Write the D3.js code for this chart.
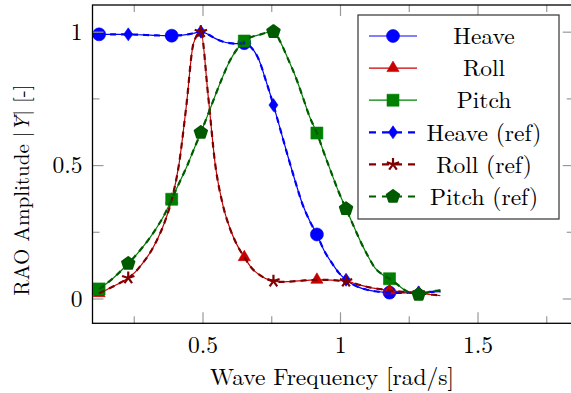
<!DOCTYPE html>
<html>
<head>
<meta charset="utf-8">
<title>RAO amplitude</title>
<script src="https://d3js.org/d3.v7.min.js"></script>
<style>
    body { margin: 0; background: white; }
</style>
</head>
<body>
<svg width="571" height="393"></svg>
<script>
// wave frequency [rad/s]
const freq = [0.124, 0.150, 0.177, 0.203, 0.230, 0.256, 0.282, 0.309, 0.335, 0.362,
              0.388, 0.414, 0.441, 0.467, 0.494, 0.520, 0.546, 0.573, 0.599, 0.626,
              0.652, 0.678, 0.705, 0.731, 0.758, 0.784, 0.810, 0.837, 0.863, 0.890,
              0.916, 0.942, 0.969, 0.995, 1.022, 1.048, 1.074, 1.101, 1.127, 1.154,
              1.180, 1.206, 1.233, 1.259, 1.286, 1.312, 1.338, 1.365];

const heave = [0.99, 0.99, 0.99, 0.99, 0.99, 0.989, 0.988, 0.987, 0.986, 0.985,
               0.985, 0.986, 0.989, 0.994, 1.0, 0.99, 0.975, 0.963, 0.957, 0.955,
               0.957, 0.94, 0.895, 0.815, 0.725, 0.63, 0.535, 0.44, 0.355, 0.29,
               0.24, 0.18, 0.135, 0.097, 0.07, 0.052, 0.04, 0.032, 0.027, 0.024,
               0.022, 0.021, 0.021, 0.022, 0.023, 0.024, 0.025, 0.026];

const roll = [0.02, 0.032, 0.046, 0.06, 0.077, 0.1, 0.132, 0.171, 0.22, 0.285,
              0.37, 0.5, 0.72, 0.955, 1.0, 0.765, 0.505, 0.355, 0.265, 0.2,
              0.155, 0.115, 0.09, 0.074, 0.065, 0.062, 0.063, 0.065, 0.067, 0.069,
              0.07, 0.07, 0.069, 0.067, 0.065, 0.058, 0.05, 0.043, 0.038, 0.034,
              0.03, 0.027, 0.025, 0.022, 0.02, 0.017, 0.014, 0.011];

const pitch = [0.036, 0.055, 0.078, 0.103, 0.131, 0.16, 0.192, 0.228, 0.268, 0.315,
               0.372, 0.43, 0.49, 0.555, 0.622, 0.69, 0.76, 0.83, 0.89, 0.935,
               0.965, 0.98, 0.988, 0.996, 1.0, 0.96, 0.9, 0.835, 0.76, 0.68,
               0.62, 0.545, 0.47, 0.4, 0.336, 0.275, 0.215, 0.16, 0.115, 0.09,
               0.074, 0.055, 0.033, 0.02, 0.015, 0.02, 0.027, 0.031];

// reference results lie on top of the computed ones
const heaveRef = heave;
const rollRef = roll;
const pitchRef = pitch;

const xTicks = [0.5, 1, 1.5];
const xMinor = [0.25, 0.75, 1.25, 1.75];
const yTicks = [0, 0.5, 1];
const yMinor = [0.25, 0.75];

const series = [
    {name: "Heave",       y: heave,    color: "#0000ff", mark: "circle",   dash: null,  phase: 0},
    {name: "Roll",        y: roll,     color: "#c80000", mark: "triangle", dash: null,  phase: 0},
    {name: "Pitch",       y: pitch,    color: "#008000", mark: "square",   dash: null,  phase: 0},
    {name: "Heave (ref)", y: heaveRef, color: "#0000ff", mark: "diamond",  dash: "6,5", phase: 4},
    {name: "Roll (ref)",  y: rollRef,  color: "#800000", mark: "star",     dash: "6,5", phase: 4},
    {name: "Pitch (ref)", y: pitchRef, color: "#005a00", mark: "pentagon", dash: "6,5", phase: 4}
];

const FONT = "Latin Modern Roman, Liberation Serif, serif";
const FS = 23.5;

const svg = d3.select("svg").attr("font-family", FONT);
const pLeft = 92.5, pRight = 573.75, pTop = 5, pBottom = 323.3;

const x = d3.scaleLinear().domain([0.1, 1.85]).range([pLeft, pRight]);
const y = d3.scaleLinear().domain([-0.093, 1.1]).range([pBottom, pTop]);

// marks, drawn around (0,0)
function markPath(kind) {
    if (kind === "triangle") return "M0,-7L6.1,3.5L-6.1,3.5Z";
    if (kind === "square") return "M-6,-6H6V6H-6Z";
    if (kind === "diamond") return "M0,-6.5L4.5,0L0,6.5L-4.5,0Z";
    if (kind === "pentagon") {
        let p = d3.range(5).map(k => {
            let a = -Math.PI / 2 + k * 2 * Math.PI / 5;
            return [6.5 * Math.cos(a), 6.5 * Math.sin(a)];
        });
        return "M" + p.join("L") + "Z";
    }
    if (kind === "star") {
        return d3.range(5).map(k => {
            let a = -Math.PI / 2 + k * 2 * Math.PI / 5;
            return "M0,0L" + 6.5 * Math.cos(a) + "," + 6.5 * Math.sin(a);
        }).join("");
    }
    return "M6.5,0A6.5,6.5 0 1 1 -6.5,0A6.5,6.5 0 1 1 6.5,0Z";
}

function drawMark(g, kind, color, px, py) {
    let m = g.append("path").attr("d", markPath(kind))
        .attr("transform", "translate(" + px + "," + py + ")");
    if (kind === "star") {
        m.attr("fill", "none").attr("stroke", color).attr("stroke-width", 2.2);
    } else if (kind === "pentagon") {
        m.attr("fill", color).attr("stroke", color).attr("stroke-width", 2)
            .attr("stroke-linejoin", "round");
    } else {
        m.attr("fill", color).attr("stroke", color).attr("stroke-width", 0.6);
    }
}

svg.append("defs").append("clipPath").attr("id", "clip")
    .append("rect").attr("x", pLeft).attr("y", pTop)
    .attr("width", pRight - pLeft).attr("height", pBottom - pTop);

const plot = svg.append("g").attr("clip-path", "url(#clip)");

const line = d3.line()
    .x((d, i) => x(freq[i]))
    .y(d => y(d))
    .curve(d3.curveMonotoneX);

series.forEach(s => {
    let g = plot.append("g");
    g.append("path")
        .attr("d", line(s.y))
        .attr("fill", "none")
        .attr("stroke", s.color)
        .attr("stroke-width", s.dash ? 2.2 : 1.2)
        .attr("stroke-dasharray", s.dash);
    s.y.forEach((v, i) => {
        if (i % 10 === s.phase) drawMark(g, s.mark, s.color, x(freq[i]), y(v));
    });
});

// axes: ticks point inward on all four sides
const axes = [
    {gen: d3.axisBottom(x), at: "translate(0," + pBottom + ")", major: xTicks, minor: xMinor, label: true, pad: 13},
    {gen: d3.axisTop(x),    at: "translate(0," + pTop + ")",    major: xTicks, minor: xMinor, label: false},
    {gen: d3.axisLeft(y),   at: "translate(" + pLeft + ",0)",   major: yTicks, minor: yMinor, label: true, pad: 10},
    {gen: d3.axisRight(y),  at: "translate(" + pRight + ",0)",  major: yTicks, minor: yMinor, label: false}
];

axes.forEach(a => {
    let gm = svg.append("g").attr("transform", a.at)
        .call(a.gen.tickValues(a.major).tickSize(-11).tickPadding(a.pad || 0)
            .tickFormat(a.label ? d3.format("") : () => ""));
    gm.attr("font-family", FONT).attr("font-size", FS);
    gm.select(".domain").remove();
    gm.selectAll(".tick line").attr("stroke", "#999").attr("stroke-width", 1.2);
    gm.selectAll(".tick text").attr("fill", "black");

    let gn = svg.append("g").attr("transform", a.at)
        .call(a.gen.tickValues(a.minor).tickSize(-7).tickFormat(() => ""));
    gn.select(".domain").remove();
    gn.selectAll(".tick line").attr("stroke", "#999").attr("stroke-width", 1.2);
});

svg.append("rect")
    .attr("x", pLeft).attr("y", pTop)
    .attr("width", pRight - pLeft).attr("height", pBottom - pTop)
    .attr("fill", "none").attr("stroke", "black").attr("stroke-width", 1.3);

// axis labels
svg.append("text")
    .attr("x", 332).attr("y", 385)
    .attr("text-anchor", "middle").attr("font-size", FS)
    .text("Wave Frequency [rad/s]");

const yl = svg.append("text")
    .attr("transform", "translate(29,190) rotate(-90)")
    .attr("text-anchor", "middle").attr("font-size", 21);
yl.append("tspan").text("RAO Amplitude |");
yl.append("tspan").attr("font-style", "italic").text("\u0232");
yl.append("tspan").text("| [-]");

// legend
const legend = svg.append("g");
legend.append("rect")
    .attr("x", 358).attr("y", 15).attr("width", 201).attr("height", 204)
    .attr("fill", "white").attr("stroke", "#333").attr("stroke-width", 1.2);

series.forEach((s, i) => {
    let ly = 36 + i * 32.1;
    legend.append("line")
        .attr("x1", 369).attr("x2", 417).attr("y1", ly).attr("y2", ly)
        .attr("stroke", s.color)
        .attr("stroke-width", s.dash ? 2.2 : 1.2)
        .attr("stroke-dasharray", s.dash ? "7,6" : null);
    drawMark(legend, s.mark, s.color, 393, ly);
    legend.append("text")
        .attr("x", 484).attr("y", ly).attr("dy", "0.35em")
        .attr("text-anchor", "middle").attr("font-size", FS)
        .text(s.name);
});
</script>
</body>
</html>
